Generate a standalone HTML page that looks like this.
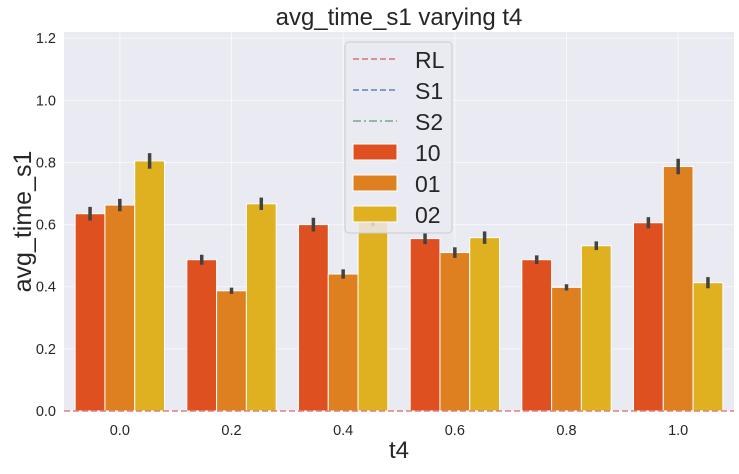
<!DOCTYPE html>
<html><head><meta charset="utf-8"><style>
body{margin:0;background:#fff;font-family:"Liberation Sans",sans-serif;}
svg text{font-family:"Liberation Sans",sans-serif;}
</style></head><body>
<svg id="chart" width="739" height="469" xmlns="http://www.w3.org/2000/svg"></svg>
<script>
const categories=["0.0","0.2","0.4","0.6","0.8","1.0"];
const series=["10","01","02"];
const s10=[0.635,0.487,0.600,0.555,0.487,0.606];
const s01=[0.663,0.387,0.441,0.510,0.398,0.787];
const s02=[0.805,0.667,0.615,0.558,0.532,0.413];
const err10=[0.022,0.016,0.022,0.018,0.014,0.018];
const err01=[0.02,0.01,0.015,0.017,0.01,0.025];
const err02=[0.025,0.02,0.02,0.02,0.014,0.018];
const yTicks=[0,0.2,0.4,0.6,0.8,1.0,1.2];
const colors=["#df5020","#df8020","#dfb020"];
const NS="http://www.w3.org/2000/svg";
const svg=document.getElementById('chart');
const L=64,R=734,T=32,B=411,yMax=1.22;
const y=v=>B-(B-T)*v/yMax;
const step=(R-L)/categories.length;
const xc=i=>L+step*(i+0.5);
function el(tag,attrs,parent){const e=document.createElementNS(NS,tag);for(const k in attrs)e.setAttribute(k,attrs[k]);(parent||svg).appendChild(e);return e;}
const bg=el('rect',{x:L,y:T,width:R-L,height:B-T,fill:'#eaeaf2'});


yTicks.forEach(t=>{
 const g=el('line',{x1:L,x2:R,y1:y(t),y2:y(t),stroke:'#fff','stroke-width':1,'stroke-opacity':0.6});
 
 
 const tx=el('text',{x:L-8,y:y(t)+5,'text-anchor':'end','font-size':14.5,fill:'#262626'});
 tx.textContent=t.toFixed(1);
 
 
});
categories.forEach((c,i)=>{
 const g=el('line',{x1:xc(i),x2:xc(i),y1:T,y2:B,stroke:'#fff','stroke-width':1,'stroke-opacity':0.6});
 
 
 const tx=el('text',{x:xc(i),y:B+24,'text-anchor':'middle','font-size':14.5,fill:'#262626'});
 tx.textContent=c;
 
 
});
const vals=[s10,s01,s02],errs=[err10,err01,err02];
const bw=step*0.8/3;
categories.forEach((c,i)=>{
 for(let s=0;s<3;s++){
  const x0=xc(i)-step*0.4+bw*s;
  const b=el('rect',{x:x0,y:y(vals[s][i]),width:bw,height:B-y(vals[s][i]),fill:colors[s],stroke:'#fff','stroke-width':1});
  
  
  const e=el('line',{x1:x0+bw/2,x2:x0+bw/2,y1:y(vals[s][i]+errs[s][i]),y2:y(vals[s][i]-errs[s][i]),stroke:'#424242','stroke-width':3.5});
  
  
 }
});
const rl=el('line',{x1:L,x2:R,y1:y(0),y2:y(0),stroke:'#dd8080','stroke-width':1.5,'stroke-dasharray':'6,3'});


const lg=el('g',{});


el('rect',{x:345,y:42,width:107,height:191,rx:4,fill:'#eaeaf2','fill-opacity':0.82,stroke:'#cccccc'},lg);
const lines=[["RL","#d77276","6,3"],["S1","#5f7fbf","6,3"],["S2","#6ab07a","8,3,2,3"]];
lines.forEach((l,k)=>{
 const yy=59+k*31;
 el('line',{x1:353,x2:397,y1:yy,y2:yy,stroke:l[1],'stroke-width':1.5,'stroke-dasharray':l[2]},lg);
 const t=el('text',{x:415,y:yy+9,'font-size':23,fill:'#262626'},lg);t.textContent=l[0];
 
 
});
series.forEach((s,k)=>{
 const yy=152+k*31;
 el('rect',{x:353,y:yy-8,width:44,height:16,fill:colors[k],stroke:'#fff'},lg);
 const t=el('text',{x:415,y:yy+9,'font-size':23,fill:'#262626'},lg);t.textContent=s;
 
 
});
const title=el('text',{x:(L+R)/2,y:25,'text-anchor':'middle','font-size':24,fill:'#262626'});
title.textContent='avg_time_s1 varying t4';


const xt=el('text',{x:(L+R)/2,y:458,'text-anchor':'middle','font-size':24,fill:'#262626'});
xt.textContent='t4';


const yt=el('text',{x:0,y:0,'text-anchor':'middle','font-size':25,fill:'#262626',transform:'translate(31,'+((T+B)/2)+') rotate(-90)'});
yt.textContent='avg_time_s1';


</script>
</body></html>
